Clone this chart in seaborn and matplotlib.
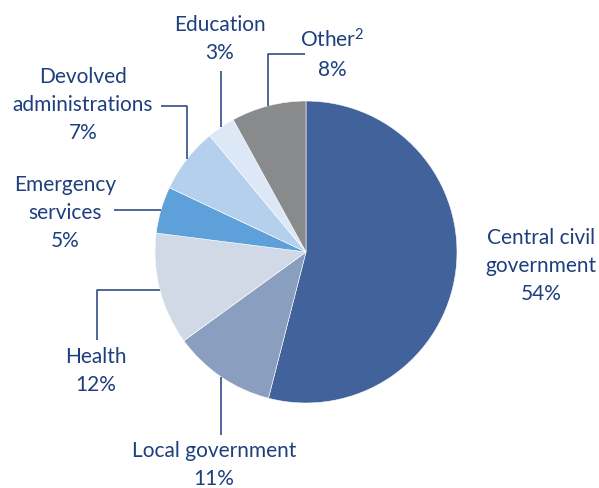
import numpy as np
import seaborn as sns
import matplotlib.pyplot as plt

labels = ["Central civil\ngovernment", "Local government", "Health",
          "Emergency\nservices", "Devolved\nadministrations", "Education", "Other$^{2}$"]
shares = [54, 11, 12, 5, 7, 3, 8]
colors = ["#41629A", "#8A9FBF", "#D0D9E5", "#5EA1DA", "#B4D0EC", "#DCE8F6", "#898A8C"]

sns.set_theme(style="white")
plt.rcParams["font.family"] = ["Lato", "DejaVu Sans"]
plt.rcParams["mathtext.default"] = "regular"

W, H = 599, 489
fig = plt.figure(figsize=(W / 100, H / 100), dpi=100)
ax = fig.add_axes([0, 0, 1, 1])

cx, cy, r = 306, H - 253, 151
wedges, _ = ax.pie(shares, colors=colors, startangle=90, counterclock=False,
                   center=(cx, cy), radius=r, frame=True,
                   wedgeprops=dict(edgecolor="white", linewidth=0.4))
ax.set_xlim(0, W)
ax.set_ylim(0, H)
ax.axis("off")

navy = "#1E3F7E"
fs = 15

# leader line layout and label centre (x, y from top)
layout = {
    0: (None, (541, 266)),
    1: (("v", 436), (214, 465)),
    2: (("hv", 97, 341), (96, 371)),
    3: (("h", 114), (65, 213)),
    4: (("hh", 107, 161), (83, 105)),
    5: (("v", 72), (220, 39)),
    6: (("vh", 55, 305), (332, 54)),
}

for i, w in enumerate(wedges):
    mid = np.deg2rad((w.theta1 + w.theta2) / 2)
    ax_x, ax_y = cx + r * np.cos(mid), cy + r * np.sin(mid)
    leader, (tx, ty) = layout[i]
    if leader is not None:
        kind = leader[0]
        if kind == "v":
            xs, ys = [ax_x, ax_x], [ax_y, H - leader[1]]
        elif kind == "h":
            xs, ys = [ax_x, leader[1]], [ax_y, ax_y]
        elif kind == "hv":
            xs, ys = [ax_x, leader[1], leader[1]], [ax_y, ax_y, H - leader[2]]
        else:
            xs, ys = [ax_x, ax_x, leader[2]], [ax_y, H - leader[1], H - leader[1]]
        ax.plot(xs, ys, color=navy, lw=1.1, solid_capstyle="butt")
    ax.text(tx, H - ty, f"{labels[i]}\n{shares[i]}%", ha="center", va="center",
            color=navy, fontsize=fs, linespacing=1.5)

fig.savefig("out.png", dpi=100)
